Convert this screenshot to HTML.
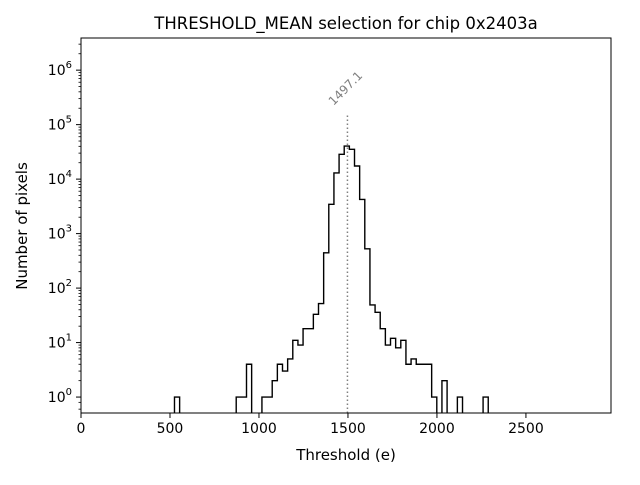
<!DOCTYPE html>
<html><head><meta charset="utf-8"><style>
body{margin:0;background:#fff}
svg text{font-family:"DejaVu Sans","Liberation Sans",sans-serif}
</style></head><body>
<svg id="chart" width="640" height="480" viewBox="0 0 640 480" xmlns="http://www.w3.org/2000/svg">
<rect width="640" height="480" fill="#fff"/>
<text x="346" y="29" font-size="16.5" text-anchor="middle">THRESHOLD_MEAN selection for chip 0x2403a</text>
<text x="346" y="460" font-size="15" text-anchor="middle">Threshold (e)</text>
<text transform="translate(27,226) rotate(-90)" font-size="15" text-anchor="middle">Number of pixels</text>
<g id="plot"></g>
</svg>
<script>
const binStart = 1479;
const binWidth = 28.9;
const binIndex = [-33,-21,-20,-19,-16,-15,-14,-13,-12,-11,-10,-9,-8,-7,-6,-5,-4,-3,-2,-1,0,1,2,3,4,5,6,7,8,9,10,11,12,13,14,15,16,17,19,22,27];
const binCounts = [1,1,1,4,1,1,2,4,3,5,11,9,18,18,33,52,445,3450,13000,28500,40500,35300,17400,4230,525,49,36,18,9,12,8,11,4,5,4,4,4,1,2,1,1];
const meanValue = 1497.1;
const xTicks = [0,500,1000,1500,2000,2500];
const yTickExps = [0,1,2,3,4,5,6];

const L=81,R=611,T=38,B=413;
const xMin=0,xMax=2978;
const yLogMin=Math.log10(0.51),yLogMax=6.59;
const xs=v=>L+(v-xMin)/(xMax-xMin)*(R-L);
const ys=v=>B-(Math.log10(v)-yLogMin)/(yLogMax-yLogMin)*(B-T);
const NS="http://www.w3.org/2000/svg";
const g=document.getElementById('plot');
function mk(tag,attrs,parent){const e=document.createElementNS(NS,tag);for(const k in attrs)e.setAttribute(k,attrs[k]);(parent||g).appendChild(e);return e;}

const map={};binIndex.forEach((b,i)=>map[b]=binCounts[i]);
const minB=Math.min(...binIndex),maxB=Math.max(...binIndex);
let pts=[];
for(let b=minB;b<=maxB;b++){
  const c=map[b]||0;
  const x0=xs(binStart+b*binWidth),x1=xs(binStart+(b+1)*binWidth);
  const y=c>0?ys(c):B+2;
  pts.push([x0,y],[x1,y]);
}
let d="M"+pts[0][0]+","+(B+2);
pts.forEach(p=>d+=" L"+p[0].toFixed(2)+","+p[1].toFixed(2));
d+=" L"+pts[pts.length-1][0]+","+(B+2);
const cp=mk('clipPath',{id:'clip'});mk('rect',{x:L,y:T,width:R-L,height:B-T},cp);
const hist=mk('path',{d:d,fill:'none',stroke:'#000','stroke-width':1.4,'clip-path':'url(#clip)'});



const mx=xs(meanValue);
const ml=mk('line',{x1:mx,x2:mx,y1:B,y2:113,stroke:'#808080','stroke-width':1.5,'stroke-dasharray':'1.5,2.5'});


const mt=mk('text',{transform:`translate(${mx-14},106) rotate(-45)`,'font-size':12,fill:'#808080'});
mt.textContent=meanValue.toFixed(1);



const fr=mk('rect',{x:L,y:T,width:R-L,height:B-T,fill:'none',stroke:'#000','stroke-width':1});



xTicks.forEach(t=>{
  const x=xs(t);
  mk('line',{x1:x,x2:x,y1:B,y2:B+5,stroke:'#000'});
  const tx=mk('text',{x:x,y:B+20,'font-size':14,'text-anchor':'middle'});
  tx.textContent=t;
  
  
});
yTickExps.forEach(e=>{
  const y=ys(Math.pow(10,e));
  mk('line',{x1:L-5,x2:L,y1:y,y2:y,stroke:'#000'});
  for(let m=2;m<10;m++){const yy=ys(m*Math.pow(10,e));if(yy>T)mk('line',{x1:L-2.5,x2:L,y1:yy,y2:yy,stroke:'#000','stroke-width':0.8});}
  const tx=mk('text',{x:L-9,y:y+5,'font-size':14,'text-anchor':'end'});
  tx.innerHTML='10<tspan dy="-7" font-size="10">'+e+'</tspan>';
  
  
});
{const yy=ys(0.6);mk('line',{x1:L-2.5,x2:L,y1:yy,y2:yy,stroke:'#000','stroke-width':0.8});
 const y2=ys(0.8);mk('line',{x1:L-2.5,x2:L,y1:y2,y2:y2,stroke:'#000','stroke-width':0.8});}
</script>
</body></html>
